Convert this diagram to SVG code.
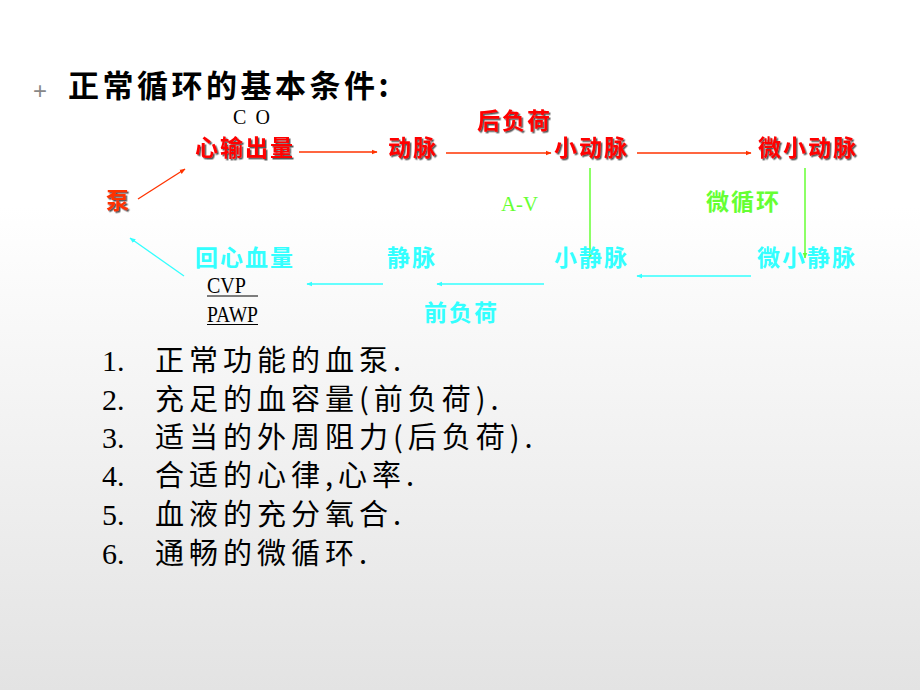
<svg xmlns="http://www.w3.org/2000/svg" width="920" height="690" viewBox="0 0 920 690">
<defs>
<linearGradient id="bg" x1="0" y1="0" x2="0" y2="1">
<stop offset="0" stop-color="#ffffff"/>
<stop offset="0.3" stop-color="#ffffff"/>
<stop offset="1" stop-color="#e3e3e3"/>
</linearGradient>
<filter id="sh" x="-10%" y="-10%" width="130%" height="140%">
<feDropShadow dx="1.5" dy="1.5" stdDeviation="0.4" flood-color="#333" flood-opacity="0.8"/>
</filter>
<marker id="mr" viewBox="0 0 10 10" refX="9" refY="5" markerWidth="6" markerHeight="6" markerUnits="userSpaceOnUse" orient="auto"><path d="M0,1 L10,5 L0,9 z" fill="#ff3300"/></marker>
<marker id="mc" viewBox="0 0 10 10" refX="9" refY="5" markerWidth="6" markerHeight="6" markerUnits="userSpaceOnUse" orient="auto"><path d="M0,1 L10,5 L0,9 z" fill="#33ffff"/></marker>
<marker id="mg" viewBox="0 0 10 10" refX="9" refY="5" markerWidth="6" markerHeight="6" markerUnits="userSpaceOnUse" orient="auto"><path d="M0,1 L10,5 L0,9 z" fill="#66ff33"/></marker>
</defs>
<style>
.t{font-family:"Noto Sans CJK SC","Liberation Sans",sans-serif;font-weight:bold;}
.red{fill:#ff0000;font-size:23px;letter-spacing:2px;filter:url(#sh);}
.cy{fill:#33ffff;font-size:23px;letter-spacing:2px;}
.gr{fill:#66ff33;}
.lat{font-family:"Liberation Serif",serif;}
.li{font-family:"Noto Sans CJK SC",sans-serif;font-size:29px;fill:#000;letter-spacing:5px;}
.num{font-family:"Liberation Serif",serif;font-size:30px;letter-spacing:0;}
.ar{fill:none;stroke:#ff3300;stroke-width:1.3;marker-end:url(#mr);}
.ac{fill:none;stroke:#33ffff;stroke-width:1.3;marker-end:url(#mc);}
.ag{fill:none;stroke:#66ff33;stroke-width:1.5;marker-end:url(#mg);}
</style>
<rect width="920" height="690" fill="url(#bg)"/>
<g id="title">
<text x="33" y="99" font-family="Liberation Sans,sans-serif" font-size="24" fill="#888">+</text>
<text x="68" y="97" class="t" font-size="31" letter-spacing="3.5" fill="#000">正常循环的基本条件:</text>
</g>
<g id="connectors">
<line class="ar" x1="299" y1="152" x2="377" y2="152"/>
<line class="ar" x1="446" y1="153" x2="551" y2="153"/>
<line class="ar" x1="637" y1="153" x2="751" y2="153"/>
<line class="ar" x1="138" y1="199" x2="185" y2="169"/>
<line class="ag" x1="590" y1="168" x2="590" y2="259"/>
<line class="ag" x1="805" y1="168" x2="805" y2="258"/>
<line class="ac" x1="751" y1="276" x2="637" y2="276"/>
<line class="ac" x1="544" y1="284" x2="437" y2="284"/>
<line class="ac" x1="383" y1="284" x2="307" y2="284"/>
<line class="ac" x1="184" y1="276" x2="130" y2="238"/>
</g>
<g id="co"><text x="233" y="124" class="lat" fill="#000" font-size="20" textLength="37" lengthAdjust="spacing">C O</text></g>
<g id="xinshuchuliang"><text x="195" y="156" class="t red">心输出量</text></g>
<g id="dongmai"><text x="388" y="156" class="t red">动脉</text></g>
<g id="houfuhe"><text x="477" y="129" class="t red">后负荷</text></g>
<g id="xiaodongmai"><text x="554" y="156" class="t red">小动脉</text></g>
<g id="weixiaodongmai"><text x="758" y="156" class="t red">微小动脉</text></g>
<g id="beng"><text x="106" y="209" class="t red" style="fill:#ff3300">泵</text></g>
<g id="av"><text x="501" y="211" class="lat gr" font-size="21" textLength="37" lengthAdjust="spacingAndGlyphs">A-V</text></g>
<g id="weixunhuan"><text x="706" y="210" class="t gr" font-size="23" letter-spacing="2">微循环</text></g>
<g id="huixinxueliang"><text x="195" y="266" class="t cy">回心血量</text></g>
<g id="jingmai"><text x="387" y="266" class="t cy">静脉</text></g>
<g id="xiaojingmai"><text x="554" y="266" class="t cy">小静脉</text></g>
<g id="weixiaojingmai"><text x="757" y="266" class="t cy">微小静脉</text></g>
<g id="qianfuhe"><text x="424" y="321" class="t cy">前负荷</text></g>
<g id="cvp">
<text x="207" y="293" class="lat" fill="#000" font-size="24" textLength="39" lengthAdjust="spacingAndGlyphs">CVP</text>
<line x1="207" y1="296" x2="258" y2="296" stroke="#000" stroke-width="1.2"/>
<text x="207" y="322" class="lat" fill="#000" font-size="24" textLength="51" lengthAdjust="spacingAndGlyphs">PAWP</text>
<line x1="207" y1="324.5" x2="258" y2="324.5" stroke="#000" stroke-width="1.2"/>
</g>
<g id="list">
<text class="li" y="371"><tspan class="num" x="102">1.</tspan><tspan x="155">正常功能的血泵.</tspan></text>
<text class="li" y="410"><tspan class="num" x="102">2.</tspan><tspan x="155">充足的血容量(前负荷).</tspan></text>
<text class="li" y="448"><tspan class="num" x="102">3.</tspan><tspan x="155">适当的外周阻力(后负荷).</tspan></text>
<text class="li" y="486"><tspan class="num" x="102">4.</tspan><tspan x="155">合适的心律,心率.</tspan></text>
<text class="li" y="525"><tspan class="num" x="102">5.</tspan><tspan x="155">血液的充分氧合.</tspan></text>
<text class="li" y="564"><tspan class="num" x="102">6.</tspan><tspan x="155">通畅的微循环.</tspan></text>
</g>
</svg>
